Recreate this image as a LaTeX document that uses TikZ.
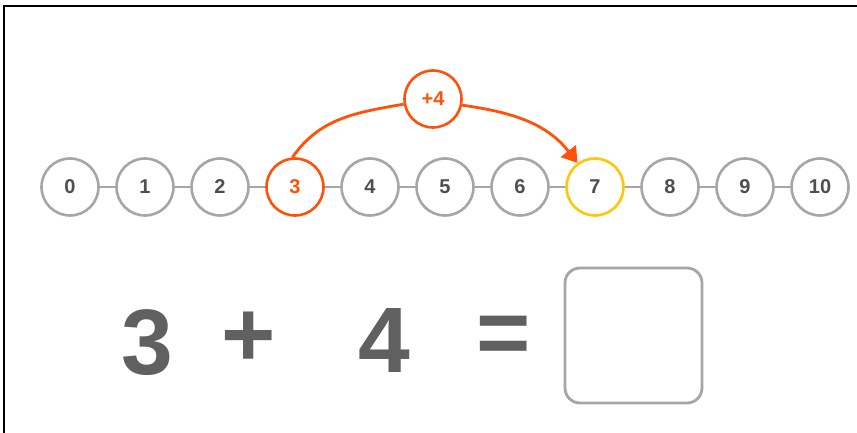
\documentclass[tikz,border=0pt]{standalone}
\usepackage{fontspec}
\setmainfont{Liberation Sans}
\usetikzlibrary{arrows.meta}
\definecolor{ringgray}{HTML}{A6A6A6}
\definecolor{digitgray}{HTML}{4F4F4F}
\definecolor{biggray}{HTML}{606060}
\definecolor{jumporange}{HTML}{FF5208}
\definecolor{goalyellow}{HTML}{FFC60A}
\tikzset{
  numball/.style={circle, draw=ringgray, line width=2.6pt, fill=white,
    minimum size=57pt, inner sep=0pt, text=digitgray,
    font=\fontsize{20}{20}\selectfont\bfseries},
  startball/.style={numball, draw=jumporange, text=jumporange},
  goalball/.style={numball, draw=goalyellow},
  stepball/.style={numball, draw=jumporange, text=jumporange},
  link/.style={ringgray, line width=2.6pt},
  jump/.style={jumporange, line width=2.8pt},
  bigsym/.style={anchor=base, inner sep=0pt, text=biggray,
    font=\fontsize{93}{93}\selectfont\bfseries},
  answerbox/.style={draw=ringgray, line width=2.8pt, rounded corners=15pt}
}
\begin{document}
\begin{tikzpicture}[x=1pt, y=1pt]
  \useasboundingbox (0,0) rectangle (857,433);
  \fill[white] (0,0) rectangle (857,433);
  % frame along the top and left edges
  \draw[black, line width=2.6pt] (4,0) -- (4,427) -- (857,427);

  % number line 0..10
  \foreach \i in {0,...,10} {
    \pgfmathsetmacro{\cx}{70+75*\i}
    \ifnum\i=3
      \node[startball] (n\i) at (\cx,246) {\i};
    \else\ifnum\i=7
      \node[goalball] (n\i) at (\cx,246) {\i};
    \else
      \node[numball] (n\i) at (\cx,246) {\i};
    \fi\fi
  }
  \foreach \i [evaluate=\i as \j using int(\i+1)] in {0,...,9}
    \draw[link] (n\i) -- (n\j);

  % the jump of +4
  \node[stepball] (plus) at (433,334) {+4};
  \draw[jump] (n3.95) to[out=55, in=190] (plus.190);
  \draw[jump, -{Triangle[length=15pt, width=19pt]}]
    (plus.-12) to[out=-8, in=128] (n7.126);

  % the sum 3 + 4 = []
  \node[bigsym] (a) at (147,58) {3};
  \node[bigsym] (op) at (249,66) {+};
  \node[bigsym] (b) at (384,60) {4};
  \node[bigsym] (eq) at (504,68) {=};
  \draw[answerbox] (565,30) rectangle (702,165);
\end{tikzpicture}
\end{document}
